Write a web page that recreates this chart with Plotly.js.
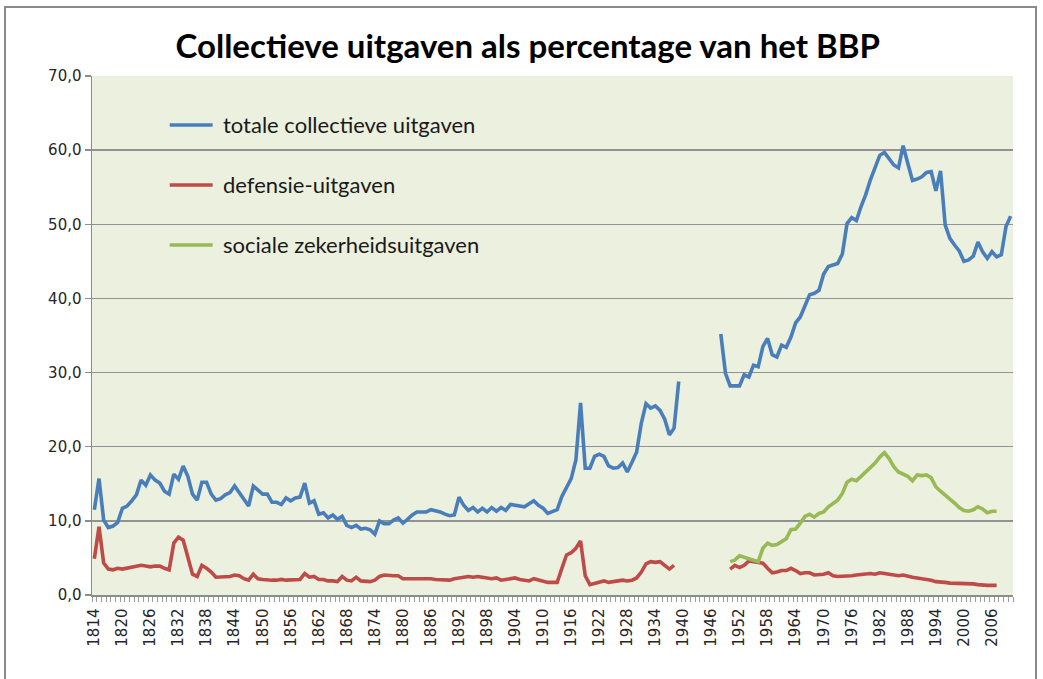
<!DOCTYPE html>
<html>
<head>
<meta charset="utf-8">
<script src="https://cdn.plot.ly/plotly-3.0.1.min.js"></script>
<style>
  html, body { margin: 0; padding: 0; background: #ffffff; }
  #wrap { position: relative; width: 1043px; height: 679px; overflow: hidden; }
  #chart { position: absolute; left: 0; top: 0; width: 1043px; height: 679px; }
  #frame { position: absolute; left: 4px; top: 6px; width: 1033px; height: 700px;
           border: 2px solid #8a8a8a; box-sizing: border-box; pointer-events: none; }
</style>
</head>
<body>
<div id="wrap">
  <div id="chart"></div>
  <div id="frame"></div>
</div>
<script>
// ---- Data (percentage van het BBP) ----
const eersteJaar = 1814;

// totale collectieve uitgaven, 1814-1939
const totaal1 = [
  11.5, 15.7, 10.1, 9.1, 9.3, 9.8,
  11.7, 12.0, 12.7, 13.5, 15.5, 14.8, 16.2, 15.5, 15.1, 14.0,
  13.6, 16.3, 15.6, 17.4, 16.0, 13.6, 12.8, 15.2, 15.2, 13.6,
  12.8, 13.0, 13.5, 13.8, 14.7, 13.8, 12.8, 12.0, 14.7, 14.2,
  13.6, 13.6, 12.5, 12.5, 12.2, 13.1, 12.7, 13.1, 13.2, 15.1,
  12.4, 12.7, 10.9, 11.1, 10.4, 10.8, 10.2, 10.6, 9.4, 9.1,
  9.4, 8.9, 9.0, 8.8, 8.2, 10.0, 9.6, 9.6, 10.1, 10.4,
  9.7, 10.2, 10.8, 11.2, 11.2, 11.2, 11.5, 11.4, 11.2, 10.9,
  10.7, 10.8, 13.2, 12.1, 11.4, 11.8, 11.2, 11.7, 11.2, 11.8,
  11.3, 11.8, 11.4, 12.2, 12.1, 12.0, 11.9, 12.3, 12.7, 12.1,
  11.7, 11.0, 11.2, 11.5, 13.3, 14.6, 15.7, 18.2, 25.9, 17.1,
  17.1, 18.7, 19.0, 18.7, 17.4, 17.1, 17.2, 17.8, 16.6, 17.9,
  19.3, 23.2, 25.8, 25.2, 25.5, 24.9, 23.7, 21.6, 22.5, 28.8
];
const totaal2Start = 1948;
// totale collectieve uitgaven, 1948-2010
const totaal2 = [
  35.2, 29.9,
  28.2, 28.2, 28.2, 29.7, 29.4, 31.0, 30.8, 33.5, 34.6, 32.4,
  32.1, 33.7, 33.4, 34.8, 36.7, 37.5, 38.9, 40.5, 40.7, 41.1,
  43.3, 44.3, 44.5, 44.7, 46.0, 50.1, 50.9, 50.5, 52.4, 54.0,
  56.0, 57.6, 59.3, 59.7, 58.8, 58.0, 57.6, 60.6, 58.2, 55.9,
  56.1, 56.4, 57.0, 57.1, 54.5, 57.2, 49.9, 48.1, 47.2, 46.4,
  45.0, 45.2, 45.7, 47.6, 46.3, 45.4, 46.3, 45.6, 45.9, 49.7,
  51.1
];

// defensie-uitgaven, 1814-1938
const defensie1 = [
  4.9, 9.2, 4.3, 3.5, 3.4, 3.6,
  3.5, 3.6, 3.8, 3.9, 4.0, 3.9, 3.8, 3.9, 3.9, 3.6,
  3.4, 7.0, 7.8, 7.4, 5.2, 2.8, 2.5, 4.0, 3.6, 3.1,
  2.4, 2.4, 2.5, 2.5, 2.7, 2.6, 2.2, 2.0, 2.8, 2.2,
  2.1, 2.0, 2.0, 2.0, 2.1, 2.0, 2.0, 2.1, 2.1, 2.9,
  2.4, 2.5, 2.1, 2.1, 1.9, 1.9, 1.8, 2.5, 2.0, 1.9,
  2.4, 1.9, 1.8, 1.8, 2.0, 2.5, 2.7, 2.6, 2.6, 2.6,
  2.2, 2.2, 2.2, 2.3, 2.2, 2.3, 2.2, 2.1, 2.1, 2.0,
  2.0, 2.2, 2.3, 2.4, 2.5, 2.4, 2.5, 2.4, 2.3, 2.2,
  2.3, 2.0, 2.1, 2.2, 2.3, 2.1, 2.0, 1.9, 2.2, 2.0,
  1.9, 1.7, 1.7, 1.7, 3.6, 5.4, 5.7, 6.3, 7.3, 2.6,
  1.4, 1.6, 1.8, 1.9, 1.7, 1.8, 2.0, 2.0, 1.9, 2.0,
  2.3, 3.1, 4.2, 4.5, 4.4, 4.5, 4.0, 3.5, 4.0
];
const naoorlogStart = 1950;
// defensie-uitgaven, 1950-2007
const defensie2 = [
  3.5, 4.0, 3.7, 4.0, 4.6, 4.5, 4.5, 4.3, 3.6, 3.0,
  3.1, 3.3, 3.3, 3.6, 3.3, 2.9, 3.0, 3.0, 2.7, 2.7,
  2.8, 3.0, 2.6, 2.5, 2.5, 2.6, 2.6, 2.7, 2.8, 2.8,
  2.9, 2.8, 3.0, 2.9, 2.8, 2.6, 2.6, 2.7, 2.5, 2.4,
  2.3, 2.2, 2.2, 2.0, 1.8, 1.8, 1.7, 1.6, 1.6, 1.5,
  1.5, 1.5, 1.5, 1.4, 1.3, 1.3, 1.3, 1.3
];
// sociale zekerheidsuitgaven, 1950-2007
const sociaal = [
  4.5, 4.7, 5.3, 5.1, 4.9, 4.6, 4.5, 6.3, 7.0, 6.7,
  6.8, 7.2, 7.6, 8.8, 8.9, 9.7, 10.6, 10.9, 10.5, 11.0,
  11.2, 11.9, 12.4, 12.8, 13.7, 15.2, 15.6, 15.4, 16.0, 16.6,
  17.1, 17.8, 18.6, 19.2, 18.4, 17.3, 16.6, 16.3, 16.0, 15.4,
  16.2, 16.1, 16.2, 15.8, 14.6, 14.0, 13.5, 12.9, 12.4, 11.8,
  11.4, 11.3, 11.5, 11.9, 11.6, 11.1, 11.3, 11.3
];

const reeksNamen = ['totale collectieve uitgaven', 'defensie-uitgaven', 'sociale zekerheidsuitgaven'];
const reeksKleuren = ['#4a7ebb', '#be4b48', '#98b954'];
const tickJaar0 = 1814, tickStap = 6;
const titel = 'Collectieve uitgaven als percentage van het BBP';

// ---- helpers ----
function jaren(start, n) { const o = []; for (let i = 0; i < n; i++) o.push(start + i); return o; }
function samen(s1, v1, s2, v2) {
  const x1 = jaren(s1, v1.length), x2 = jaren(s2, v2.length);
  return { x: x1.concat([x1[x1.length - 1] + 1], x2), y: v1.concat([null], v2) };
}

const tTot = samen(eersteJaar, totaal1, totaal2Start, totaal2);
const tDef = samen(eersteJaar, defensie1, naoorlogStart, defensie2);

const lijn = (c) => ({ color: c, width: 3.6, shape: 'linear' });
const traces = [
  { type: 'scatter', mode: 'lines', name: reeksNamen[0], x: tTot.x, y: tTot.y, line: lijn(reeksKleuren[0]), connectgaps: false, showlegend: false },
  { type: 'scatter', mode: 'lines', name: reeksNamen[1], x: tDef.x, y: tDef.y, line: lijn(reeksKleuren[1]), connectgaps: false, showlegend: false },
  { type: 'scatter', mode: 'lines', name: reeksNamen[2], x: jaren(naoorlogStart, sociaal.length), y: sociaal, line: lijn(reeksKleuren[2]), showlegend: false }
];

// manual legend (Excel-like placement inside the plot area)
const legY = [0.9056, 0.790, 0.6744];
const shapes = [], annotations = [];
for (let i = 0; i < 3; i++) {
  shapes.push({ type: 'line', xref: 'paper', yref: 'paper', x0: 0.0844, x1: 0.131, y0: legY[i], y1: legY[i],
                line: { color: reeksKleuren[i], width: 3.6 } });
  annotations.push({ xref: 'paper', yref: 'paper', x: 0.1405, y: legY[i], xanchor: 'left', yanchor: 'middle',
                     text: reeksNamen[i], showarrow: false,
                     font: { family: 'Lato, "Open Sans", sans-serif', size: 22, color: '#1a1a1a' } });
}

const layout = {
  width: 1043, height: 679,
  margin: { l: 92, r: 30, t: 76, b: 84 },
  paper_bgcolor: '#ffffff',
  plot_bgcolor: '#ebf0df',
  separators: ',.',
  title: { text: '<b>' + titel + '</b>', x: 0.506, xanchor: 'center', y: 0.932, yanchor: 'middle',
           font: { family: 'Lato, "Open Sans", sans-serif', size: 33, color: '#000000' } },
  xaxis: {
    type: 'linear', range: [1813.5, 2010.5], tickmode: 'linear', tick0: tickJaar0, dtick: tickStap,
    tickangle: -90, ticks: '', showgrid: false, zeroline: false,
    showline: true, linecolor: '#8c8c8c', linewidth: 1.5,
    tickfont: { family: 'DejaVu Sans, sans-serif', size: 15, color: '#262626' },
    ticklabelstandoff: 6,
    minor: { tick0: 1813.5, dtick: 1, ticks: 'outside', ticklen: 5, tickcolor: '#9a9a9a', tickwidth: 1, showgrid: false }
  },
  yaxis: {
    range: [0, 70], tickmode: 'linear', tick0: 0, dtick: 10, tickformat: '.1f',
    ticks: 'outside', ticklen: 6, tickcolor: '#8c8c8c', tickwidth: 1.5,
    showline: true, linecolor: '#8c8c8c', linewidth: 1.5,
    showgrid: true, gridcolor: '#929292', gridwidth: 1.5, zeroline: false,
    tickfont: { family: 'DejaVu Sans, sans-serif', size: 15, color: '#262626' }
  },
  shapes: shapes,
  annotations: annotations,
  showlegend: false
};

Plotly.newPlot('chart', traces, layout, { staticPlot: true, displayModeBar: false });
</script>
</body>
</html>
